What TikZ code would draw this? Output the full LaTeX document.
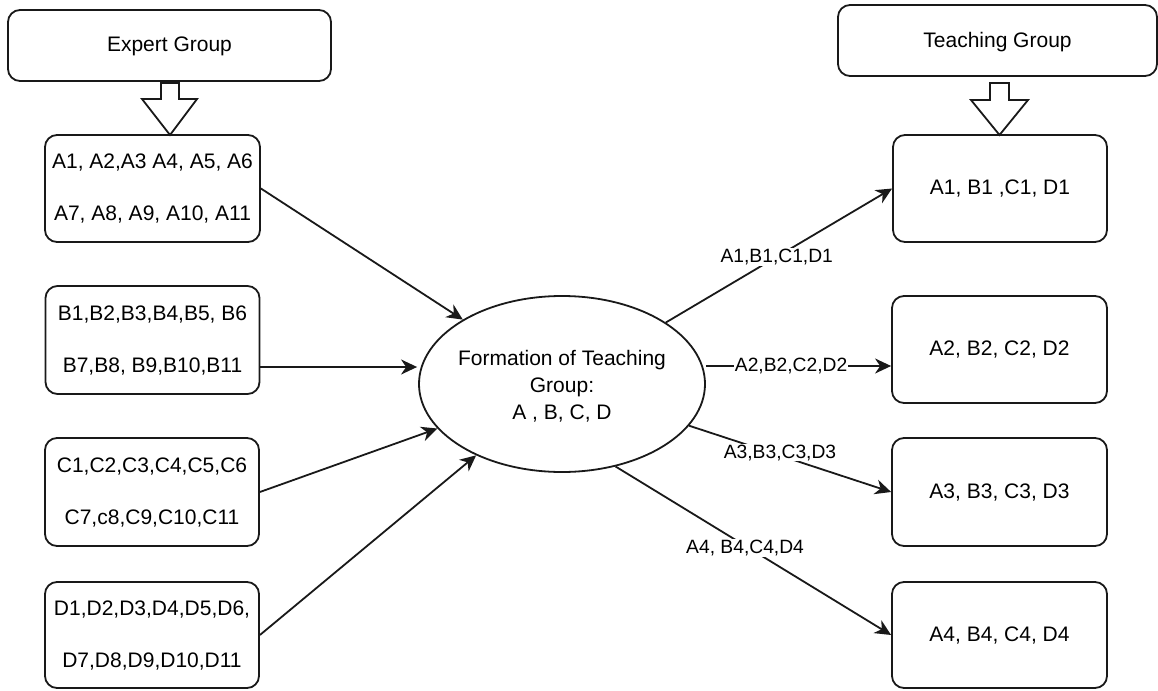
\documentclass[tikz,border=0pt]{standalone}
\usepackage{fontspec}
\setmainfont{Liberation Sans}
\usetikzlibrary{shapes.geometric,arrows.meta,calc}
\begin{document}
\begin{tikzpicture}[x=1pt,y=-1pt,
  box/.style={draw=black!90, rounded corners=12pt, line width=1.8pt, inner sep=0pt,
    align=center, font=\fontsize{21}{52}\selectfont, text depth=2pt},
  txt/.style={align=center, inner sep=0pt, font=\fontsize{21}{27}\selectfont},
  lbl/.style={fill=white, inner sep=1pt, font=\fontsize{19.25}{23}\selectfont},
  conn/.style={draw=black!90, line width=1.8pt, -{Stealth[length=16pt,width=15pt,inset=5pt]}},
  hollow/.style={draw=black!90, line width=1.8pt, fill=white, line join=miter}]
\useasboundingbox (0,0) rectangle (1158,690);

% header boxes
\node[box, minimum width=323pt, minimum height=71pt] (EG) at (169.5,45.5) {Expert Group};
\node[box, minimum width=319pt, minimum height=71pt] (TG) at (997.5,40.5) {Teaching Group};

% expert boxes
\node[box, minimum width=215pt, minimum height=107pt] (A) at (152.5,188.5) {A1, A2,A3 A4, A5, A6\\A7, A8, A9, A10, A11};
\node[box, minimum width=214pt, minimum height=108pt] (B) at (152.5,340) {B1,B2,B3,B4,B5, B6\\B7,B8, B9,B10,B11};
\node[box, minimum width=214pt, minimum height=108pt] (C) at (152,492) {C1,C2,C3,C4,C5,C6\\C7,c8,C9,C10,C11};
\node[box, minimum width=214pt, minimum height=106pt] (D) at (152,635) {D1,D2,D3,D4,D5,D6,\\D7,D8,D9,D10,D11};

% teaching boxes
\node[box, minimum width=214pt, minimum height=107pt] (T1) at (1000,188.5) {A1, B1 ,C1, D1};
\node[box, minimum width=215pt, minimum height=107pt] (T2) at (999.5,349.5) {A2, B2, C2, D2};
\node[box, minimum width=215pt, minimum height=108pt] (T3) at (999.5,492) {A3, B3, C3, D3};
\node[box, minimum width=215pt, minimum height=106pt] (T4) at (999.5,635) {A4, B4, C4, D4};

% central ellipse
\node[draw=black!90, line width=1.8pt, ellipse, minimum width=286pt, minimum height=176pt, inner sep=0pt] (ell) at (562,384) {};
\node[txt] (ellt) at (562,386) {Formation of Teaching\\Group:\\A , B, C, D};

% hollow block arrows
\draw[hollow] (161,83) -- (179,83) -- (179,99) -- (197,99) -- (170,135) -- (142,99) -- (161,99) -- cycle;
\draw[hollow] (990,83) -- (1009,83) -- (1009,100) -- (1028,100) -- (999.5,135) -- (971,100) -- (990,100) -- cycle;

% inputs
\draw[conn] (A.east) -- (ell);
\draw[conn] ([yshift=-27pt]B.east) -- ([yshift=17pt,xshift=-1pt]ell.west);
\draw[conn] (C.east) -- (ell);
\draw[conn] (D.east) -- (ell);

% outputs
\draw[conn] (ell) -- (T1.west) node[lbl, pos=0.49] (l1) {A1,B1,C1,D1};
\draw[conn] ([yshift=18pt]ell.east) -- ([yshift=-16.5pt]T2.west) node[lbl, pos=0.46] (l2) {A2,B2,C2,D2};
\draw[conn] (ell) -- (T3.west) node[lbl, pos=0.45, yshift=3pt] (l3) {A3,B3,C3,D3};
\draw[conn] (ell.-57) -- (T4.west) node[lbl, pos=0.47, yshift=-2pt] (l4) {A4, B4,C4,D4};
\end{tikzpicture}
\end{document}
